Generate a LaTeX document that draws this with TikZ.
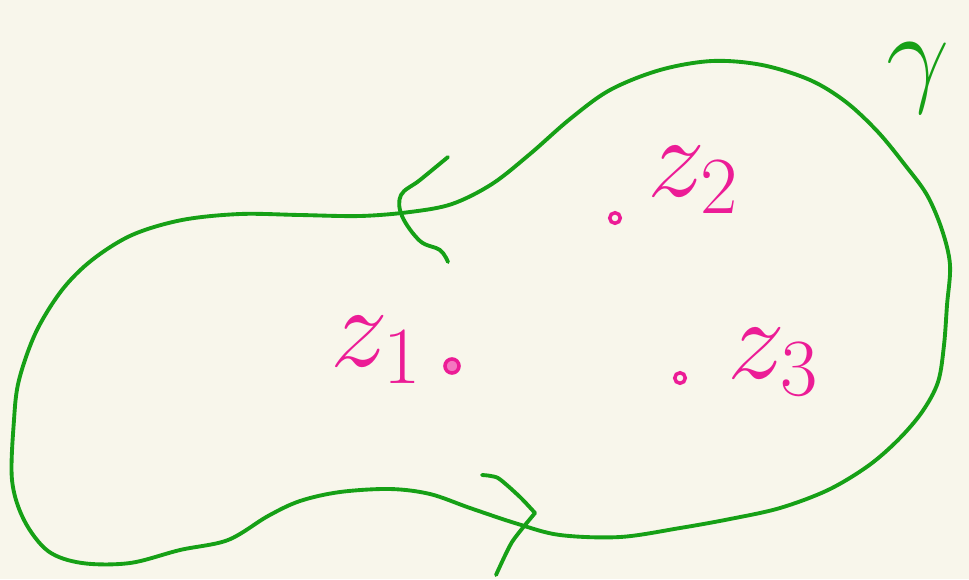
\RequirePackage{fix-cm}
\documentclass[tikz,border=0pt]{standalone}
\definecolor{paper}{RGB}{248,246,235}
\definecolor{inkgreen}{RGB}{22,160,22}
\definecolor{inkpink}{RGB}{236,28,150}

\begin{document}
\begin{tikzpicture}[x=0.02cm,y=-0.02cm,
  curve/.style={inkgreen,line width=2.2pt,line cap=round,line join=round},
  zlabel/.style={inkpink,font=\fontsize{66}{66}\selectfont,inner sep=0pt},
  zdot/.style={circle,draw=inkpink,line width=2pt,inner sep=0pt}]

  \fill[paper] (0,0) rectangle (969,579);
  \useasboundingbox (0,0) rectangle (969,579);

  % the contour gamma
  \draw[curve] plot[smooth cycle,tension=0.55] coordinates {
    (878,132) (905,165) (927,195) (942,230) (950,265) (947,305) (944,345)
    (938,382) (922,412) (898,440) (868,466) (828,490) (780,508) (730,519)
    (680,528) (620,537) (560,535) (518,524) (470,508) (430,494) (390,489)
    (340,492) (300,501) (268,516) (228,540) (180,550) (130,563) (82,563)
    (48,551) (24,520) (12,480) (14,420) (19,380) (36,332) (62,290)
    (92,260) (132,235) (182,220) (240,214) (300,215) (360,216) (410,212)
    (452,204) (492,184) (530,154) (570,119) (610,90) (660,70) (712,61)
    (762,65) (810,80) (846,102)};

  % direction marks
  \draw[curve] plot[smooth,tension=0.6] coordinates {
    (448,157) (420,180) (401,195) (402,216) (420,241) (440,250) (448,262)};
  \draw[curve] plot[smooth,tension=0.4] coordinates {
    (482,475) (498,478) (520,497) (535,513)};
  \draw[curve] plot[smooth,tension=0.4] coordinates {
    (535,513) (512,542) (496,575)};

  \node[inkgreen,font=\fontsize{64}{64}\selectfont,inner sep=0pt]
    (gam) at (918,78) {$\gamma$};

  % the points
  \node[zdot,minimum size=8pt,fill=inkpink!60] (p1) at (452,366) {};
  \node[zdot,minimum size=6pt] (p2) at (615,218) {};
  \node[zdot,minimum size=6pt] (p3) at (680,378) {};

  \node[zlabel] (z1) at (376,350) {$z_1$};
  \node[zlabel] (z2) at (693,180) {$z_2$};
  \node[zlabel] (z3) at (773,362) {$z_3$};
\end{tikzpicture}
\end{document}
